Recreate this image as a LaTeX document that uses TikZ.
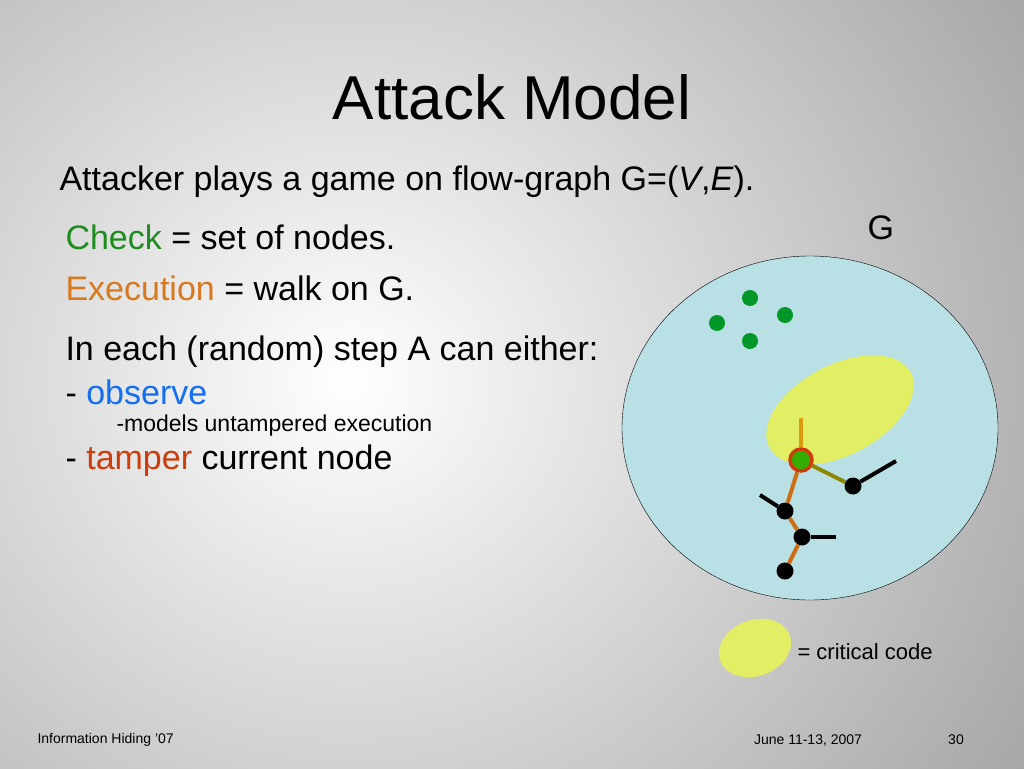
\documentclass[tikz,border=0pt]{standalone}
\usepackage{fontspec}
\setmainfont{Liberation Sans}
\definecolor{bgout}{RGB}{160,160,160}
\definecolor{pool}{RGB}{185,224,228}
\definecolor{crit}{RGB}{226,238,100}
\definecolor{dotgreen}{RGB}{0,150,40}
\definecolor{walk}{RGB}{205,110,20}
\definecolor{ring}{RGB}{205,60,10}
\definecolor{obsblue}{RGB}{20,110,240}
\definecolor{chkgreen}{RGB}{30,140,30}
\definecolor{exeorange}{RGB}{215,120,30}

\begin{document}
\begin{tikzpicture}[x=1pt,y=-1pt,
  dot/.style={circle,fill=black,inner sep=0pt,minimum size=17pt},
  gdot/.style={circle,fill=dotgreen,inner sep=0pt,minimum size=16pt},
  txt/.style={anchor=west,font=\fontsize{34}{40}\selectfont},
  small/.style={anchor=west,font=\fontsize{23}{27}\selectfont},
  foot/.style={font=\fontsize{14}{16}\selectfont},
  walkline/.style={walk,line width=4pt},
  stub/.style={black,line width=4pt}]
\useasboundingbox (0,0) rectangle (1024,768);
\begin{scope}
\clip (0,0) rectangle (1024,768);
\shade[inner color=white,outer color=bgout] (-500,-420) rectangle (1200,1180);
\end{scope}
\node (title) at (512,97) {\fontsize{62}{70}\selectfont Attack Model};
\node[txt] (game) at (56,182) {Attacker plays a game on flow-graph G=(\textit{V},\textit{E}).};
\node[txt] (check) at (62,237) {\textcolor{chkgreen}{Check} = set of nodes.};
\node[txt] (exec) at (62,288) {\textcolor{exeorange}{Execution} = walk on G.};
\node[txt] (step) at (62,352) {In each (random) step A can either:};
\node[txt] (obs) at (62,392) {- \textcolor{obsblue}{observe}};
\node[small] (untamp) at (113,426) {-models untampered execution};
\node[txt] (tamp) at (62,461) {- \textcolor{ring}{tamper} current node};
\node[txt] (glabel) at (864,228) {G};
% graph
\draw[fill=pool] (810,428) ellipse [x radius=188,y radius=172];
\fill[crit] (840,410) ellipse [x radius=80,y radius=45,rotate=28];
\foreach \n/\x/\y in {g1/750/298,g2/717/323,g3/785/315,g4/750/341}
  \node[gdot] (\n) at (\x,\y) {};
\node[dot] (a) at (853,486) {};
\node[dot] (b) at (785,511) {};
\node[dot] (c) at (802,537) {};
\node[dot] (d) at (785,571) {};
\node[circle,fill=green!60!black!80!yellow,draw=ring,line width=3.5pt,minimum size=22pt,inner sep=0pt] (cur) at (801,460) {};
\coordinate (into) at (801,418);
\coordinate (sa) at (896,461);
\coordinate (sb) at (760,495);
\coordinate (sc) at (836,537);
\draw[walk!70!yellow,line width=4pt] (into) -- (cur);
\draw[olive,line width=4pt] (cur) -- (a);
\draw[walkline] (cur) -- (b) -- (c) -- (d);
\draw[stub] (a) -- (sa);
\draw[stub] (b) -- (sb);
\draw[stub] (c) -- (sc);
% legend
\fill[crit] (755,648) ellipse [x radius=37,y radius=28,rotate=20];
\node[small,font=\fontsize{22}{26}\selectfont] (legend) at (794,652) {= critical code};
\node[foot,anchor=west] (f1) at (34,740) {Information Hiding '07};
\node[foot] (f2) at (808,740) {June 11-13, 2007};
\node[foot] (f3) at (956,740) {30};
\end{tikzpicture}
\end{document}
